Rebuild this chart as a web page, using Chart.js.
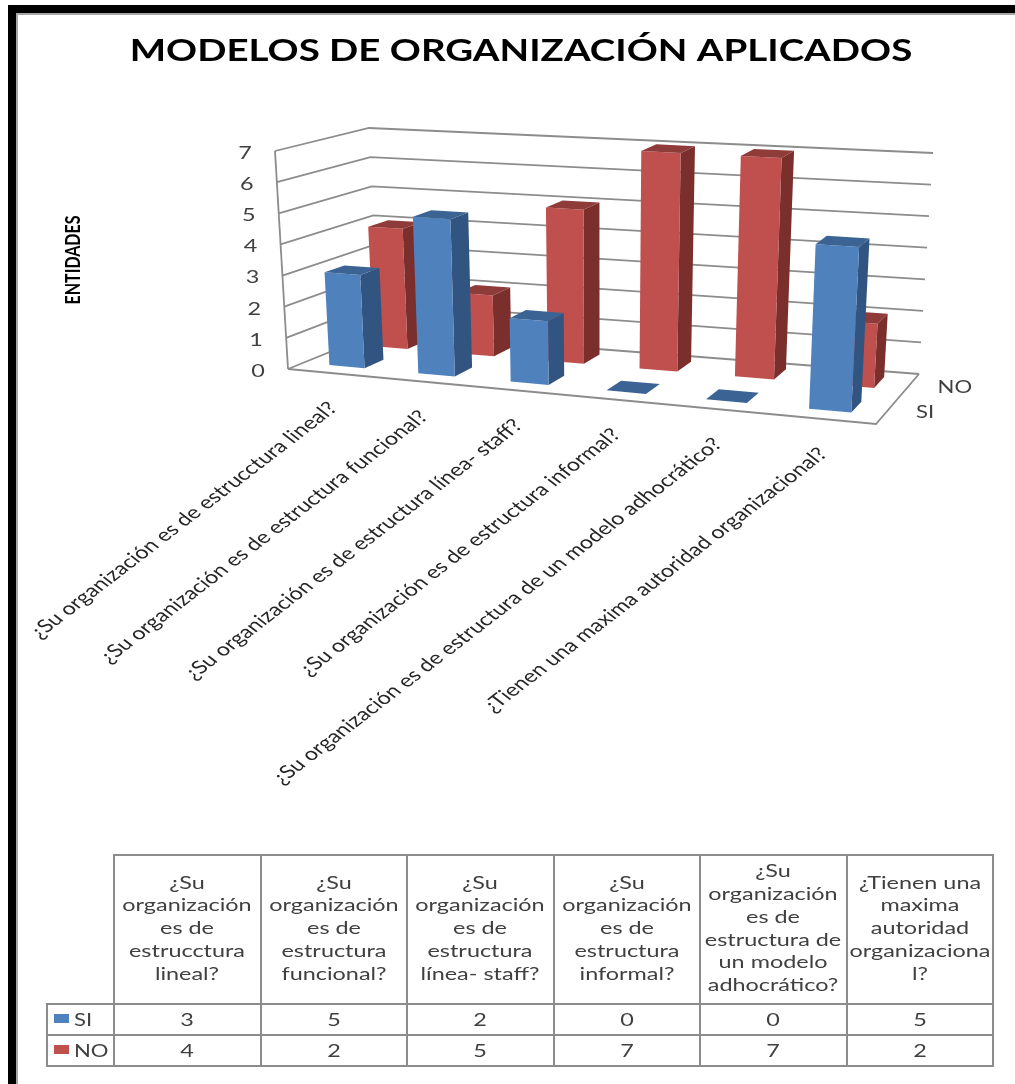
<!DOCTYPE html>
<html>
<head>
<meta charset="utf-8">
<script src="https://cdn.jsdelivr.net/npm/chart.js@4"></script>
<style>
    body { margin: 0; background: #fff; width: 1015px; height: 1084px; overflow: hidden; position: relative; font-family: Lato, sans-serif; }
    canvas { position: absolute; left: 0; top: 0; }
    #frameTop { position: absolute; left: 8px; top: 5px; width: 1007px; height: 8px; background: #000; }
    #frameLeft { position: absolute; left: 8px; top: 5px; width: 8px; height: 1079px; background: #000; }
    #innerTop { position: absolute; left: 16px; top: 13px; width: 999px; height: 2px; background: #a6a6a6; }
    #innerLeft { position: absolute; left: 16px; top: 13px; width: 2px; height: 1071px; background: #a6a6a6; }
    table { position: absolute; left: 46px; top: 854px; width: 948px; border-collapse: collapse; table-layout: fixed; color: #404040; font-size: 18px; }
    td { border: 2px solid #8c8c8c; text-align: center; padding: 0; vertical-align: middle; overflow: hidden; }
    td.blank { border-top: none; border-left: none; }
    tr.head td { height: 147px; }
    tr.head .wide { position: relative; top: -2px; }
    tr.row td { height: 29px; }
    .wide { display: inline-block; transform: scaleX(1.3); line-height: 22.8px; width: 112px; overflow-wrap: anywhere; }
    td.key { text-align: left; white-space: nowrap; }
    .swatch { position: absolute; width: 15px; height: 9px; margin-left: 6px; margin-top: 6px; }
    .keyName { display: inline-block; margin-left: 26px; font-size: 17px; transform: scaleX(1.3); transform-origin: left center; line-height: 22px; }
</style>
</head>
<body>
<canvas id="chart" width="1015" height="1084"></canvas>
<div id="frameTop"></div>
<div id="frameLeft"></div>
<div id="innerTop"></div>
<div id="innerLeft"></div>
<table id="dataTable"></table>

<script>
const categories = [
    "¿Su organización es de estrucctura lineal?",
    "¿Su organización es de estructura funcional?",
    "¿Su organización es de estructura línea- staff?",
    "¿Su organización es de estructura informal?",
    "¿Su organización es de estructura de un modelo adhocrático?",
    "¿Tienen una maxima autoridad organizacional?"
];
const siValues = [3, 5, 2, 0, 0, 5];
const noValues = [4, 2, 5, 7, 7, 2];

const chartTitle = "MODELOS DE ORGANIZACIÓN APLICADOS";
const yTitle = "ENTIDADES";

const blue = { front: "#4f81bd", side: "#325480", top: "#3b6494" };
const red = { front: "#c0504d", side: "#7b2f2d", top: "#8f3b39" };

// corners of the 3d box on screen: [front, back] at the floor and at the top
const floorLeft = [[288, 369], [379, 332]];
const floorRight = [[876, 424], [919, 374]];
const topLeft = [[275, 151], [369, 128]];
const topRight = [[888, 189], [933, 153]];

const rows = [{ w: 0.17, depth: 0.22 }, { w: 0.67, depth: 0.22 }];
const textStretch = 1.3;

function mix(a, b, t) {
    return [a[0] + (b[0] - a[0]) * t, a[1] + (b[1] - a[1]) * t];
}

// u along the categories, v up the values, w front to back
function project(u, v, w) {
    const warped = u - 0.11 * u * (1 - u);
    const bottom = mix(mix(floorLeft[0], floorRight[0], warped), mix(floorLeft[1], floorRight[1], warped), w);
    const upper = mix(mix(topLeft[0], topRight[0], warped), mix(topLeft[1], topRight[1], warped), w);
    return mix(bottom, upper, v);
}

function fillFace(ctx, points, color) {
    ctx.beginPath();
    points.forEach((p, i) => i ? ctx.lineTo(p[0], p[1]) : ctx.moveTo(p[0], p[1]));
    ctx.closePath();
    ctx.fillStyle = color;
    ctx.fill();
}

function strokeLine(ctx, points) {
    ctx.beginPath();
    points.forEach((p, i) => i ? ctx.lineTo(p[0], p[1]) : ctx.moveTo(p[0], p[1]));
    ctx.strokeStyle = "#8c8c8c";
    ctx.lineWidth = 1.8;
    ctx.stroke();
}

function wideText(ctx, text, x, y, font, color, align, angle) {
    ctx.save();
    ctx.translate(x, y);
    ctx.scale(textStretch, 1);
    ctx.rotate(angle || 0);
    ctx.font = font;
    ctx.fillStyle = color;
    ctx.textAlign = align;
    ctx.textBaseline = "middle";
    ctx.fillText(text, 0, 0);
    ctx.restore();
}

const box3d = {
    id: "box3d",
    beforeDatasetsDraw(chart) {
        const ctx = chart.ctx;
        const area = chart.chartArea;
        const xScale = chart.scales.x;
        const yScale = chart.scales.y;
        const toU = px => (px - area.left) / area.width;
        const toV = px => (area.bottom - px) / area.height;

        // walls and floor
        yScale.ticks.forEach(tick => {
            const v = toV(yScale.getPixelForValue(tick.value));
            strokeLine(ctx, [project(0, v, 0), project(0, v, 1), project(1, v, 1)]);
            wideText(ctx, tick.label, project(0, v, 0)[0] - 30, project(0, v, 0)[1] + 2, "18px Lato", "#404040", "center");
        });
        strokeLine(ctx, [project(0, 0, 0), project(0, 1, 0)]);
        strokeLine(ctx, [project(0, 0, 0), project(1, 0, 0), project(1, 0, 1)]);

        // back row first so the front row covers it
        [1, 0].forEach(index => {
            const meta = chart.getDatasetMeta(index);
            const colors = index === 0 ? blue : red;
            const w0 = rows[index].w;
            const w1 = w0 + rows[index].depth;
            meta.data.forEach(bar => {
                const u0 = toU(bar.x - bar.width / 2);
                const u1 = toU(bar.x + bar.width / 2);
                const v = toV(bar.y);
                if (v > 0) {
                    fillFace(ctx, [project(u1, 0, w0), project(u1, 0, w1), project(u1, v, w1), project(u1, v, w0)], colors.side);
                    fillFace(ctx, [project(u0, 0, w0), project(u1, 0, w0), project(u1, v, w0), project(u0, v, w0)], colors.front);
                }
                fillFace(ctx, [project(u0, v, w0), project(u1, v, w0), project(u1, v, w1), project(u0, v, w1)], colors.top);
            });
        });

        // category labels hang off the front edge of the floor
        xScale.ticks.forEach(tick => {
            const u = toU(xScale.getPixelForValue(tick.value));
            const p = project(u, 0, 0);
            wideText(ctx, tick.label, p[0] + 1, p[1] + 32, "18px Lato", "#262626", "right", -Math.PI / 4);
        });

        // series names on the depth axis
        chart.data.datasets.forEach((set, i) => {
            const p = project(1, 0, rows[i].w + rows[i].depth / 2);
            wideText(ctx, set.label, p[0] + 28, p[1] + 3, "17px Lato", "#404040", "left");
        });

        wideText(ctx, chartTitle, 521, 51, "bold 29.6px Lato", "#000", "center");
        wideText(ctx, yTitle, 73, 260, "bold 16px Lato", "#000", "center", -Math.PI / 2);
        return false;
    }
};

new Chart(document.getElementById("chart"), {
    type: "bar",
    data: {
        labels: categories,
        datasets: [
            { label: "SI", data: siValues, backgroundColor: blue.front },
            { label: "NO", data: noValues, backgroundColor: red.front }
        ]
    },
    options: {
        responsive: false,
        animation: false,
        grouped: false,
        barPercentage: 0.4,
        categoryPercentage: 1,
        plugins: { legend: { display: false }, tooltip: { enabled: false } },
        scales: {
            x: { display: false, ticks: { autoSkip: false } },
            y: { display: false, min: 0, max: 7, ticks: { stepSize: 1 } }
        }
    },
    plugins: [box3d]
});

// data table under the chart
const table = document.getElementById("dataTable");
let html = '<colgroup><col style="width:67px">' + categories.map(() => '<col>').join("") + '</colgroup>';
html += '<tr class="head"><td class="blank"></td>' + categories.map(c => '<td><span class="wide">' + c + '</span></td>').join("") + '</tr>';
[["SI", siValues, blue.front], ["NO", noValues, red.front]].forEach(row => {
    html += '<tr class="row"><td class="key"><span class="swatch" style="background:' + row[2] + '"></span><span class="keyName">' + row[0] + '</span></td>';
    html += row[1].map(v => '<td><span class="wide">' + v + '</span></td>').join("") + '</tr>';
});
table.innerHTML = html;
</script>
</body>
</html>
